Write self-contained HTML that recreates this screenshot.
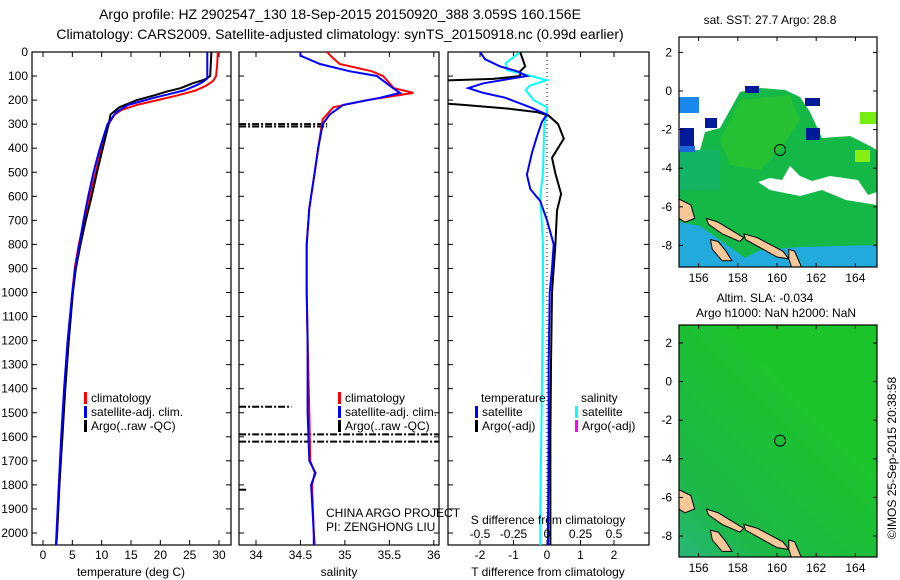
<!DOCTYPE html>
<html><head><meta charset="utf-8"><style>
body{margin:0;background:#fff;}
svg{display:block;font-family:"Liberation Sans",sans-serif;}
text{font-size:12px;fill:#000;}
</style></head><body>
<svg id="fig" width="900" height="580" viewBox="0 0 900 580">
<text x="340" y="19" text-anchor="middle" style="font-size:14px">Argo profile: HZ 2902547_130 18-Sep-2015 20150920_388 3.059S 160.156E</text>
<text x="340" y="39" text-anchor="middle" style="font-size:14px">Climatology: CARS2009. Satellite-adjusted climatology: synTS_20150918.nc (0.99d earlier)</text>
<g id="p1"></g>
<g id="p2"></g>
<g id="p3"></g>
<g id="m1"></g>
<g id="m2"></g>
<text transform="translate(896,458) rotate(-90)" text-anchor="middle">©IMOS 25-Sep-2015 20:38:58</text>
</svg>
<script>
// ---- data ----
const depthTicks=[0,100,200,300,400,500,600,700,800,900,1000,1100,1200,1300,1400,1500,1600,1700,1800,1900,2000];
const tempTicks=[0,5,10,15,20,25,30];
const salTicks=[34,34.5,35,35.5,36];
const tdiffTicks=[-2,-1,0,1,2];
const sdiffTicks=[-0.5,-0.25,0,0.25,0.5];
const tempClimDepth=[0,50,100,120,140,160,180,200,220,240,260,300,400,500,600,700,800,900,1000,1200,1400,1600,1800,2000,2050];
const tempClim=[29.8,29.7,29.5,29.0,27.8,26,23,19.5,16,13.5,12.2,11.2,10,9,8,7,6.1,5.4,5,4.3,3.7,3.2,2.8,2.4,2.3];
const tempSatDepth=[0,110,125,140,160,190,220,250,300,400,500,600,700,800,900,1000,1200,1400,1600,1800,2000,2050];
const tempSat=[28,28,27.2,26,24,19,14.5,12.5,11,9.7,8.6,7.7,6.9,6.2,5.5,5,4.2,3.6,3.1,2.7,2.3,2.2];
const tempArgoDepth=[0,100,115,130,150,165,180,200,230,260,300,400,500,600,700,800,900,1000,1200,1400,1600,1800,2000,2030];
const tempArgo=[28.7,28.5,27.5,25.5,23.5,21,19,16,13,11.5,11.2,10.2,9.2,8.3,7.3,6.4,5.6,5.1,4.4,3.8,3.3,2.8,2.4,2.3];
const salClimDepth=[0,20,50,80,100,150,170,200,230,280,400,500,650,800,1000,1200,1500,1700,1750,1800,2000,2050];
const salClim=[34.8,34.85,34.94,35.3,35.43,35.55,35.77,35.25,34.87,34.75,34.7,34.66,34.6,34.57,34.57,34.58,34.6,34.61,34.66,34.63,34.65,34.66];
const salSatDepth=[0,15,25,50,80,100,150,170,190,220,260,300,400,500,650,800,1000,1200,1500,1700,1750,1800,2000,2050];
const salSat=[34.5,34.5,34.56,34.72,35.05,35.36,35.54,35.62,35.4,34.98,34.83,34.75,34.7,34.66,34.6,34.57,34.57,34.58,34.58,34.6,34.67,34.62,34.65,34.65];
const salBadDepth=[300,310,1475,1590,1620,1820];
const salBadFrom=[33.81,33.81,33.81,33.81,33.81,33.81];
const salBadTo=[34.8,34.8,34.4,36.06,36.06,33.9];
const tdArgoDepth=[0,60,80,100,112,120,210,220,235,250,265,300,360,440,505,590,660,800,1000,1300,1600,2000,2050];
const tdArgo=[-0.8,-0.65,-0.8,-0.8,-1.6,-3.5,-3.5,-2.5,-1.2,-0.3,0.05,0.33,0.5,0.15,0.25,0.42,0.3,0.25,0.15,0.12,0.1,0.1,0.1];
const tdSatDepth=[0,30,60,80,100,130,150,170,190,230,260,290,350,420,510,570,620,700,800,900,1000,1300,1600,2000,2050];
const tdSat=[-2.0,-1.85,-1.4,-0.9,-0.6,-1.9,-2.35,-1.9,-1.25,-0.5,0,-0.15,-0.3,-0.45,-0.6,-0.5,-0.2,0,0.2,0.15,0.08,0.05,0.05,0.03,0.03];
const sdSatDepth=[0,47,75,100,117,140,158,200,230,260,300,500,600,800,1000,1500,1900,2050];
const sdSat=[-0.2,-0.31,-0.3,-0.12,0,-0.13,-0.16,-0.1,0,0,-0.02,-0.03,-0.05,-0.03,-0.03,-0.04,-0.05,-0.05];
const lonTicks=[156,158,160,162,164];
const latTicks=[2,0,-2,-4,-6,-8];
const argoLon=160.156, argoLat=-3.059;

const NS="http://www.w3.org/2000/svg";
function el(parent,tag,attrs,txt){const e=document.createElementNS(NS,tag);for(const k in attrs)e.setAttribute(k,attrs[k]);if(txt!==undefined)e.textContent=txt;parent.appendChild(e);return e;}
const Y0=52, DPX=0.2405, BOT=545;
const yD=d=>Y0+d*DPX;
function panel(g,x0,x1,xs,ticks,fmt,name){
  const fr=el(g,'rect',{x:x0,y:Y0,width:x1-x0,height:BOT-Y0,fill:'none',stroke:'#000','stroke-width':1.2});
  
  ticks.forEach(t=>{const x=xs(t);
    el(g,'line',{x1:x,x2:x,y1:BOT,y2:BOT-5,stroke:'#000'});el(g,'line',{x1:x,x2:x,y1:Y0,y2:Y0+5,stroke:'#000'});
    const tx=el(g,'text',{x:x,y:BOT+14,'text-anchor':'middle'},fmt(t));
    });
  depthTicks.forEach(d=>{const y=yD(d);el(g,'line',{x1:x0,x2:x0+5,y1:y,y2:y,stroke:'#000'});el(g,'line',{x1:x1,x2:x1-5,y1:y,y2:y,stroke:'#000'});});
}
function line(g,xs,vals,depths,color,w,name,clip){
  const pts=vals.map((v,i)=>xs(v).toFixed(1)+','+yD(depths[i]).toFixed(1)).join(' ');
  const p=el(g,'polyline',{points:pts,fill:'none',stroke:color,'stroke-width':w,'clip-path':clip||''});
  
}
// Panel 1
const p1=document.getElementById('p1');
const xT=t=>43+t*5.867;
panel(p1,32,231,xT,tempTicks,String,'temperature');
depthTicks.forEach(d=>{const t=el(p1,'text',{x:28,y:yD(d)+4,'text-anchor':'end'},String(d));});
line(p1,xT,tempClim,tempClimDepth,'#f00',2,'temp-climatology-line');
line(p1,xT,tempArgo,tempArgoDepth,'#000',2,'temp-argo-line');
line(p1,xT,tempSat,tempSatDepth,'#00f',2,'temp-satellite-line');
el(p1,'text',{x:131,y:576,'text-anchor':'middle'},'temperature (deg C)');
function legend(g,x,y,items,name){items.forEach((it,i)=>{const yy=y+i*14;
  el(g,'rect',{x:x,y:yy-10,width:3,height:12,fill:it[1]});
  const t=el(g,'text',{x:x+7,y:yy},it[0]);});}
legend(p1,84,402,[['climatology','#f00'],['satellite-adj. clim.','#00f'],['Argo(..raw -QC)','#000']],'temp-legend');
// Panel 2
const p2=document.getElementById('p2');
const xS=s=>256+(s-34)*88.9;
panel(p2,239,439,xS,salTicks,String,'salinity');
el(p2,'clipPath',{id:'c2'});el(document.getElementById('c2'),'rect',{x:239,y:Y0,width:200,height:BOT-Y0});
salBadDepth.forEach((d,i)=>{const l=el(p2,'line',{x1:xS(salBadFrom[i]),x2:xS(salBadTo[i]),y1:yD(d),y2:yD(d),stroke:'#000','stroke-width':2,'stroke-dasharray':'7 2 2 2'});
  });
line(p2,xS,salClim,salClimDepth,'#f00',2,'sal-climatology-line','url(#c2)');
line(p2,xS,salSat,salSatDepth,'#00f',2,'sal-satellite-line','url(#c2)');
el(p2,'text',{x:339,y:576,'text-anchor':'middle'},'salinity');
legend(p2,338,402,[['climatology','#f00'],['satellite-adj. clim.','#00f'],['Argo(..raw -QC)','#000']],'sal-legend');
el(p2,'text',{x:326,y:517},'CHINA ARGO PROJECT');
el(p2,'text',{x:326,y:531},'PI: ZENGHONG LIU');
// Panel 3
const p3=document.getElementById('p3');
const xTD=t=>547+t*33.5, xSD=s=>547+s*134;
panel(p3,448,649,xTD,tdiffTicks,String,'t-difference');
el(p3,'clipPath',{id:'c3'});el(document.getElementById('c3'),'rect',{x:448,y:Y0,width:201,height:BOT-Y0});
el(p3,'line',{x1:547,x2:547,y1:Y0,y2:BOT,stroke:'#000','stroke-dasharray':'1 3'});
line(p3,xSD,sdSat,sdSatDepth,'#0ff',2,'sdiff-satellite-line','url(#c3)');
line(p3,xTD,tdArgo,tdArgoDepth,'#000',2,'tdiff-argo-line','url(#c3)');
line(p3,xTD,tdSat,tdSatDepth,'#00f',2,'tdiff-satellite-line','url(#c3)');
sdiffTicks.forEach(s=>{const t=el(p3,'text',{x:xSD(s),y:538,'text-anchor':'middle'},String(s));});
el(p3,'text',{x:548,y:524,'text-anchor':'middle'},'S difference from climatology');
el(p3,'text',{x:548,y:576,'text-anchor':'middle'},'T difference from climatology');
el(p3,'text',{x:481,y:402},'temperature');el(p3,'text',{x:581,y:402},'salinity');
legend(p3,475,416,[['satellite','#00f'],['Argo(-adj)','#000']],'tdiff-legend');
legend(p3,575,416,[['satellite','#0ff'],['Argo(-adj)','#f0f']],'sdiff-legend');
// Maps
const lonX=l=>679+(l-155)*19.6;
function map(g,top,bottom,lat0y,name,sst){
  const latY=v=>lat0y-v*19.3;
  const cid='clip'+name;el(g,'clipPath',{id:cid});el(document.getElementById(cid),'rect',{x:679,y:top,width:198,height:bottom-top});
  const c=el(g,'g',{'clip-path':'url(#'+cid+')'});
  if(sst){
    el(c,'rect',{x:679,y:top,width:198,height:bottom-top,fill:'#fff'});
    el(c,'polygon',{points:'679,150 700,150 705,132 720,128 730,110 740,92 760,88 785,90 800,97 810,112 822,138 850,136 870,146 877,150 877,192 868,195 858,180 830,176 812,181 800,176 790,166 782,180 770,178 758,182 770,190 800,196 822,190 846,200 877,205 877,270 679,270',fill:'#14b847'});
    el(c,'polygon',{points:'740,100 790,95 800,120 780,150 760,170 730,165 720,140',fill:'#2ec52a','opacity':0.7});
    el(c,'polygon',{points:'679,222 700,226 720,240 745,258 760,250 800,247 877,245 877,270 679,270',fill:'#22aadd'});
    el(c,'rect',{x:679,y:150,width:40,height:40,fill:'#12b07a',opacity:0.6});
    [[679,97,20,16,'#1a88ee'],[680,128,14,18,'#001a99'],[705,118,12,10,'#001a99'],[745,86,14,7,'#001a99'],[805,98,15,8,'#001a99'],[806,128,14,12,'#001a99'],[860,112,18,12,'#77ee11'],[855,150,15,12,'#88ee11'],[680,146,15,6,'#1a66dd']].forEach(r=>el(c,'rect',{x:r[0],y:r[1],width:r[2],height:r[3],fill:r[4]}));
  } else {
    const gid='grad'+name;const gr=el(g,'linearGradient',{id:gid,x1:0,y1:1,x2:0.6,y2:0.3});
    el(gr,'stop',{offset:0,'stop-color':'#2ab87a'});el(gr,'stop',{offset:0.3,'stop-color':'#1cb848'});el(gr,'stop',{offset:1,'stop-color':'#1cc42c'});
    el(c,'rect',{x:679,y:top,width:198,height:bottom-top,fill:'url(#'+gid+')'});
  }
  [[[155,-5.6],[155.6,-5.9],[155.8,-6.6],[155.3,-6.8],[155,-6.6]],
   [[156.4,-6.6],[157,-6.8],[158.3,-7.6],[158.1,-7.8],[157.2,-7.4],[156.5,-6.9]],
   [[158.3,-7.4],[159,-7.6],[160.3,-8.3],[160.6,-8.7],[160,-8.6],[158.4,-7.7]],
   [[156.6,-7.7],[157,-7.8],[157.4,-8.3],[157.7,-8.8],[157.2,-8.8],[156.7,-8.2]],
   [[160.6,-8.2],[160.9,-8.3],[161.2,-9],[161.3,-9.3],[160.8,-9.3],[160.6,-8.7]]].forEach(poly=>{
    const p=el(c,'polygon',{points:poly.map(q=>lonX(q[0]).toFixed(1)+','+latY(q[1]).toFixed(1)).join(' '),fill:'#f8c898',stroke:'#000','stroke-width':1});
    });
  const ci=el(g,'circle',{cx:lonX(argoLon),cy:latY(argoLat),r:5.5,fill:'none',stroke:'#000','stroke-width':1});
  
  el(g,'rect',{x:679,y:top,width:198,height:bottom-top,fill:'none',stroke:'#000','stroke-width':1.2});
  lonTicks.forEach(l=>{const x=lonX(l);el(g,'line',{x1:x,x2:x,y1:bottom,y2:bottom-4,stroke:'#000'});el(g,'line',{x1:x,x2:x,y1:top,y2:top+4,stroke:'#000'});
    const t=el(g,'text',{x:x,y:bottom+15,'text-anchor':'middle'},String(l));});
  latTicks.forEach(v=>{const y=latY(v);el(g,'line',{x1:679,x2:683,y1:y,y2:y,stroke:'#000'});el(g,'line',{x1:877,x2:873,y1:y,y2:y,stroke:'#000'});
    const t=el(g,'text',{x:672,y:y+4,'text-anchor':'end'},String(v));});
}
const m1=document.getElementById('m1'),m2=document.getElementById('m2');
map(m1,37,267,91,'a',true);
map(m2,325,557,381.6,'b',false);
el(m1,'text',{x:770,y:24,'text-anchor':'middle'},'sat. SST: 27.7 Argo: 28.8');
el(m2,'text',{x:765,y:302,'text-anchor':'middle'},'Altim. SLA: -0.034');
el(m2,'text',{x:776,y:317,'text-anchor':'middle'},'Argo h1000: NaN h2000: NaN');
</script>
</body></html>
